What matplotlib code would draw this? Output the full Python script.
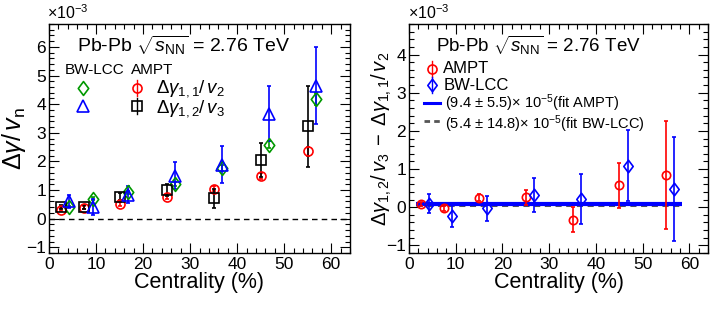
import matplotlib
matplotlib.use("Agg")
import matplotlib.pyplot as plt
from matplotlib.ticker import MultipleLocator
from matplotlib.lines import Line2D
from matplotlib.path import Path

plt.rcParams['font.family'] = ['Liberation Sans', 'DejaVu Sans']
plt.rcParams['mathtext.fontset'] = 'custom'
plt.rcParams['mathtext.rm'] = 'Liberation Sans'
plt.rcParams['mathtext.it'] = 'Liberation Sans:italic'
plt.rcParams['mathtext.bf'] = 'Liberation Sans:bold'

# ---- data (values in units of 1e-3) ----
cent_ampt = [2.5, 7.5, 15, 25, 35, 45, 55]
cent_bw = [4.3, 9.3, 16.8, 26.8, 36.8, 46.8, 56.8]

ampt_g11_v2 = [0.31, 0.38, 0.51, 0.75, 1.04, 1.48, 2.36]
ampt_g11_v2_err = [0.05, 0.05, 0.06, 0.07, 0.09, 0.10, 0.16]
ampt_g12_v3 = [0.41, 0.41, 0.77, 1.00, 0.71, 2.05, 3.23]
ampt_g12_v3_err = [0.08, 0.08, 0.12, 0.20, 0.33, 0.60, 1.42]

bw_g11_v2 = [0.42, 0.70, 0.92, 1.21, 1.77, 2.59, 4.18]
bw_g11_v2_err = [0.03, 0.04, 0.05, 0.07, 0.09, 0.12, 0.20]
bw_g12_v3 = [0.60, 0.41, 0.84, 1.50, 1.89, 3.67, 4.65]
bw_g12_v3_err = [0.22, 0.27, 0.30, 0.47, 0.65, 0.97, 1.35]

diff_ampt = [0.09, -0.03, 0.25, 0.26, -0.33, 0.57, 0.85]
diff_ampt_err = [0.05, 0.06, 0.10, 0.20, 0.33, 0.60, 1.41]
diff_bw = [0.09, -0.24, -0.03, 0.32, 0.21, 1.09, 0.47]
diff_bw_err = [0.25, 0.29, 0.32, 0.45, 0.66, 0.94, 1.36]

fit_ampt = 0.094
fit_bw = 0.054
fit_range = [1.5, 58.5]

RED = '#ff0000'
BLUE = '#0000ff'
GREEN = '#009900'
GREY = '#555555'

DIAMOND = Path([(0, 1), (0.75, 0), (0, -1), (-0.75, 0), (0, 1)],
               [Path.MOVETO, Path.LINETO, Path.LINETO, Path.LINETO, Path.CLOSEPOLY])

fig = plt.figure(figsize=(7.14, 3.10), dpi=100)
W, H = 714, 310
ax1 = fig.add_axes([49 / W, 1 - 253 / H, 301 / W, 229 / H])
ax2 = fig.add_axes([409 / W, 1 - 253 / H, 299 / W, 229 / H])


def style(ax, ylim, ymaj, ymin):
    ax.set_xlim(0, 64)
    ax.set_ylim(*ylim)
    ax.xaxis.set_major_locator(MultipleLocator(10))
    ax.xaxis.set_minor_locator(MultipleLocator(2))
    ax.yaxis.set_major_locator(MultipleLocator(ymaj))
    ax.yaxis.set_minor_locator(MultipleLocator(ymin))
    ax.tick_params(which='both', direction='in', top=True, right=True,
                   labelsize=12.5, width=0.8)
    ax.tick_params(which='major', length=7)
    ax.tick_params(which='minor', length=3.5)
    ax.tick_params(axis='x', pad=3)
    ax.tick_params(axis='y', pad=2)
    for s in ax.spines.values():
        s.set_linewidth(1.0)
    ax.set_xlabel('Centrality (%)', fontsize=15.5, labelpad=0)
    ax.text(-0.005, 1.01, r'$\times$10$^{-3}$', transform=ax.transAxes,
            fontsize=11.5, ha='left', va='bottom')


style(ax1, (-1.2, 6.8), 1, 0.2)
style(ax2, (-1.2, 4.8), 1, 0.2)

ekw = dict(capsize=1.5, elinewidth=1.2, capthick=1.2, linestyle='none')

# left panel
ax1.axhline(0, color='black', lw=1.0, ls=(0, (4, 3)))
ax1.errorbar(cent_bw, bw_g11_v2, yerr=bw_g11_v2_err, marker=DIAMOND, ms=10,
             mfc='none', mec=GREEN, color=GREEN, mew=1.2, **ekw)
ax1.errorbar(cent_ampt, ampt_g11_v2, yerr=ampt_g11_v2_err, marker='o', ms=6.5,
             mfc='none', mec=RED, color=RED, mew=1.2, **ekw)
ax1.errorbar(cent_ampt, ampt_g12_v3, yerr=ampt_g12_v3_err, marker='s', ms=7,
             mfc='none', mec='black', color='black', mew=1.2, **ekw)
ax1.errorbar(cent_bw, bw_g12_v3, yerr=bw_g12_v3_err, marker='^', ms=9,
             mfc='none', mec=BLUE, color=BLUE, mew=1.2, **ekw)
ax1.set_ylabel(r'$\Delta\gamma/\,v_{\rm n}$', fontsize=18)
ax1.yaxis.set_label_coords(-21 / 301, 0.5)

ax1.text(0.093, 0.908, r'Pb-Pb $\sqrt{s_{\rm NN}}$ = 2.76 TeV', transform=ax1.transAxes,
         fontsize=14, ha='left', va='center')
ax1.text(0.053, 0.80, 'BW-LCC', transform=ax1.transAxes, fontsize=11,
         ha='left', va='center')
ax1.text(0.272, 0.80, 'AMPT', transform=ax1.transAxes, fontsize=11,
         ha='left', va='center')
for (x, y, m, c, ms) in [(0.114, 0.719, DIAMOND, GREEN, 10), (0.114, 0.642, '^', BLUE, 9),
                         (0.293, 0.719, 'o', RED, 6.5), (0.293, 0.642, 's', 'black', 7)]:
    ax1.add_line(Line2D([x], [y], marker=m, ms=ms, mfc='none', mec=c, mew=1.2,
                        transform=ax1.transAxes, ls='none'))
for (y, c) in [(0.719, RED), (0.642, 'black')]:
    ax1.add_line(Line2D([0.293, 0.293], [y - 0.035, y + 0.035], color=c, lw=1.0,
                        transform=ax1.transAxes, zorder=1))
ax1.text(0.355, 0.719, r'$\Delta\gamma_{1,1}/\,v_2$', transform=ax1.transAxes,
         fontsize=13.5, ha='left', va='center')
ax1.text(0.355, 0.630, r'$\Delta\gamma_{1,2}/\,v_3$', transform=ax1.transAxes,
         fontsize=13.5, ha='left', va='center')

# right panel
ax2.plot(fit_range, [fit_ampt, fit_ampt], color=BLUE, lw=3, solid_capstyle='butt', zorder=2)
ax2.plot(fit_range, [fit_bw, fit_bw], color=GREY, lw=2.2, ls=(0, (2, 1.5)), zorder=1)
ax2.errorbar(cent_ampt, diff_ampt, yerr=diff_ampt_err, marker='o', ms=6,
             mfc='none', mec=RED, color=RED, mew=1.2, zorder=3, **ekw)
ax2.errorbar(cent_bw, diff_bw, yerr=diff_bw_err, marker=DIAMOND, ms=9,
             mfc='none', mec=BLUE, color=BLUE, mew=1.2, zorder=3, **ekw)
ax2.set_ylabel(r'$\Delta\gamma_{1,2}/\,v_3\;-\;\Delta\gamma_{1,1}/\,v_2$', fontsize=14.5)
ax2.yaxis.set_label_coords(-15 / 299, 0.5)

ax2.text(0.089, 0.908, r'Pb-Pb $\sqrt{s_{\rm NN}}$ = 2.76 TeV', transform=ax2.transAxes,
         fontsize=13.5, ha='left', va='center')
ax2.add_line(Line2D([0.078], [0.805], marker='o', ms=6.5, mfc='none', mec=RED, mew=1.2,
                    transform=ax2.transAxes, ls='none'))
ax2.add_line(Line2D([0.078, 0.078], [0.805 - 0.035, 0.805 + 0.035], color=RED, lw=1.0,
                    transform=ax2.transAxes))
ax2.add_line(Line2D([0.078], [0.732], marker=DIAMOND, ms=9, mfc='none', mec=BLUE, mew=1.2,
                    transform=ax2.transAxes, ls='none'))
ax2.add_line(Line2D([0.078, 0.078], [0.732 - 0.035, 0.732 + 0.035], color=BLUE, lw=1.0,
                    transform=ax2.transAxes))
ax2.text(0.115, 0.805, 'AMPT', transform=ax2.transAxes, fontsize=12, ha='left', va='center')
ax2.text(0.115, 0.732, 'BW-LCC', transform=ax2.transAxes, fontsize=12, ha='left', va='center')
ax2.add_line(Line2D([0.05, 0.104], [0.657, 0.657], color=BLUE, lw=2.2, transform=ax2.transAxes))
ax2.add_line(Line2D([0.05, 0.104], [0.575, 0.575], color=GREY, lw=2, ls=(0, (2, 1.5)),
                    transform=ax2.transAxes))
ax2.text(0.119, 0.652, r'(9.4 $\pm$ 5.5)$\times$ 10$^{-5}$(fit AMPT)', transform=ax2.transAxes,
         fontsize=10.5, ha='left', va='center')
ax2.text(0.119, 0.562, r'(5.4 $\pm$ 14.8)$\times$ 10$^{-5}$(fit BW-LCC)', transform=ax2.transAxes,
         fontsize=10.5, ha='left', va='center')

fig.savefig('out.png', dpi=100)
